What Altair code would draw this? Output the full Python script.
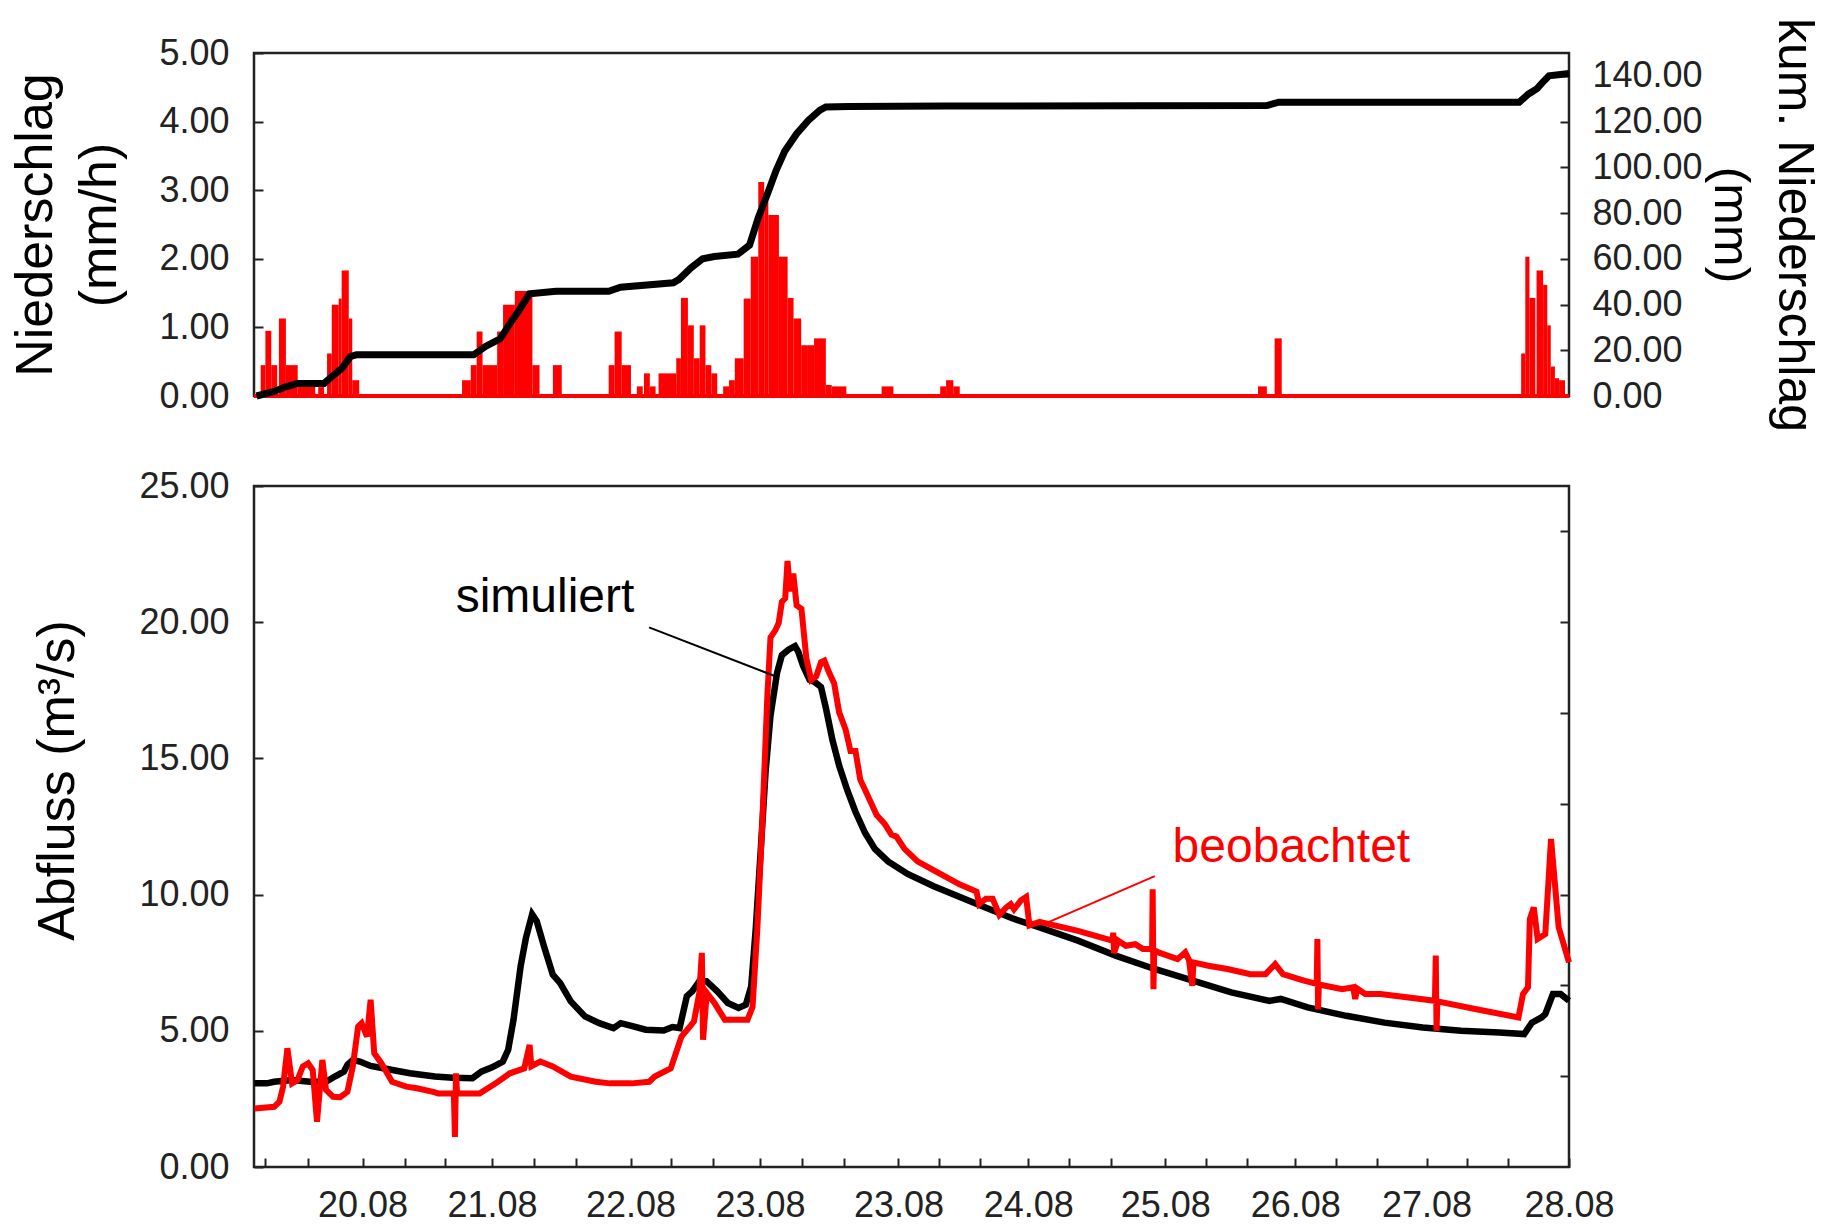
import altair as alt
import pandas as pd

FONT = "Liberation Sans"
RED = "#ff0000"

# x unit: days, 0 = tick "20.08"
X_DOMAIN = [-0.81, 9.0]
tick_vals = [-0.726, -0.410, 0, 0.313, 0.616, 0.966, 1.279, 1.590, 1.999, 2.299, 2.612, 2.965,
             3.278, 3.588, 3.998, 4.299, 4.606, 4.966, 5.272, 5.582, 5.988, 6.291, 6.598, 6.958,
             7.264, 7.571, 7.937, 8.237, 8.547, 9.0]
major_vals = [0, 0.966, 1.999, 2.965, 3.998, 4.966, 5.988, 6.958, 7.937, 9.0]
major_labels = ["20.08", "21.08", "22.08", "23.08", "23.08", "24.08", "25.08", "26.08", "27.08", "28.08"]

# precipitation bars (mm/h): start, end, value
rain_t0 = [-0.760, -0.725, -0.681, -0.624, -0.572, -0.484, -0.331, -0.265, -0.230, -0.178, -0.156, -0.103, -0.077,
           0.742, 0.807, 0.851, 0.895, 1.004, 1.048, 1.136, 1.267, 1.420, 1.836, 1.880, 1.933, 2.046, 2.099, 2.143,
           2.208, 2.340, 2.375, 2.427, 2.471, 2.515, 2.558, 2.602, 2.690, 2.734, 2.777, 2.843, 2.896, 2.952, 2.996,
           3.027, 3.106, 3.171, 3.215, 3.272, 3.316, 3.368, 3.456, 3.500, 3.872, 4.309, 4.353, 4.407, 6.680, 6.804,
           8.643, 8.674, 8.705, 8.758, 8.807, 8.838, 8.864, 8.895, 8.926]
rain_t1 = [-0.725, -0.681, -0.637, -0.572, -0.484, -0.353, -0.287, -0.230, -0.178, -0.156, -0.103, -0.077, -0.025,
           0.807, 0.851, 0.895, 1.004, 1.048, 1.136, 1.267, 1.320, 1.486, 1.880, 1.933, 2.002, 2.090, 2.143, 2.186,
           2.340, 2.375, 2.427, 2.471, 2.515, 2.558, 2.602, 2.646, 2.734, 2.777, 2.843, 2.896, 2.952, 2.996, 3.027,
           3.106, 3.171, 3.215, 3.272, 3.316, 3.368, 3.456, 3.500, 3.609, 3.960, 4.353, 4.407, 4.455, 6.746, 6.857,
           8.674, 8.705, 8.749, 8.807, 8.838, 8.864, 8.895, 8.926, 8.970]
rain_mmh = [0.45, 0.95, 0.45, 1.13, 0.45, 0.23, 0.13, 0.62, 1.33, 1.42, 1.83, 1.13, 0.23,
            0.23, 0.45, 0.94, 0.45, 0.94, 1.33, 1.53, 0.45, 0.45, 0.45, 0.94, 0.45, 0.14, 0.33, 0.14,
            0.33, 0.55, 1.43, 1.03, 0.55, 1.03, 0.45, 0.33, 0.14, 0.23, 0.55, 1.42, 2.03, 3.12, 2.83,
            2.64, 2.03, 1.43, 1.13, 0.74, 0.74, 0.84, 0.16, 0.14, 0.14, 0.14, 0.23, 0.14, 0.14, 0.84,
            0.62, 2.03, 1.43, 1.83, 1.62, 1.03, 0.43, 0.26, 0.23]

# cumulative precipitation (mm)
cum_t = [-0.791, -0.659, -0.572, -0.484, -0.287, -0.243, -0.156, -0.090, -0.046, 0.829, 0.917, 1.026, 1.092,
         1.179, 1.245, 1.442, 1.836, 1.924, 2.318, 2.361, 2.449, 2.537, 2.624, 2.799, 2.887, 2.952, 3.018,
         3.084, 3.149, 3.237, 3.325, 3.412, 3.456, 3.631, 4.353, 6.746, 6.835, 8.629, 8.696, 8.762, 8.807,
         8.851, 9.0]
cum_mm = [0, 2, 4, 5.5, 5.5, 7.8, 12, 17.3, 18, 18, 21.7, 25, 31,
          38.5, 44.7, 45.8, 45.8, 47.6, 49.5, 51, 56, 60, 61, 62, 66, 78, 88,
          98.5, 107, 114.6, 120.5, 125, 126.4, 126.6, 126.8, 127, 128.5, 128.5, 132, 134.4, 137.4,
          140, 141]

# simulated discharge (m3/s)
sim_t = [-0.806, -0.713, -0.660, -0.526, -0.393, -0.273, -0.207, -0.140, -0.113, -0.073, -0.020, 0.060,
         0.193, 0.353, 0.540, 0.673, 0.820, 0.886, 0.966, 1.046, 1.086, 1.126, 1.179, 1.219, 1.265, 1.299,
         1.353, 1.419, 1.473, 1.553, 1.659, 1.766, 1.872, 1.926, 2.006, 2.112, 2.246, 2.312, 2.365, 2.419,
         2.459, 2.512, 2.566, 2.646, 2.725, 2.805, 2.859, 2.899, 2.933, 2.970, 3.006, 3.043, 3.092, 3.128,
         3.177, 3.226, 3.250, 3.286, 3.335, 3.372, 3.420, 3.457, 3.506, 3.555, 3.616, 3.676, 3.749, 3.822,
         3.920, 4.066, 4.261, 4.456, 4.651, 4.846, 5.050, 5.337, 5.623, 5.908, 6.194, 6.480, 6.766, 6.850,
         7.050, 7.338, 7.623, 7.909, 8.195, 8.480, 8.666, 8.723, 8.795, 8.823, 8.880, 8.937, 9.000]
sim_q = [3.07, 3.07, 3.13, 3.19, 3.13, 3.13, 3.32, 3.50, 3.75, 3.93, 3.87, 3.71,
         3.59, 3.44, 3.32, 3.28, 3.26, 3.50, 3.66, 3.87, 4.30, 5.41, 7.37, 8.42, 9.28, 9.03,
         8.11, 7.06, 6.76, 6.08, 5.53, 5.28, 5.10, 5.28, 5.18, 5.04, 5.01, 5.14, 5.10, 6.27,
         6.45, 6.82, 6.82, 6.45, 6.02, 5.84, 5.96, 6.63, 8.74, 11.61, 14.48, 16.57, 18.14, 18.79,
         18.99, 19.12, 18.92, 18.40, 17.88, 17.81, 17.62, 16.83, 15.66, 14.74, 13.83, 13.05, 12.26, 11.68,
         11.22, 10.76, 10.31, 9.91, 9.52, 9.13, 8.80, 8.31, 7.75, 7.27, 6.84, 6.41, 6.10, 6.17,
         5.86, 5.55, 5.30, 5.12, 5.00, 4.94, 4.88, 5.30, 5.49, 5.61, 6.35, 6.35, 6.10]

# observed discharge (m3/s)
obs_t = [-0.806, -0.660, -0.620, -0.593, -0.561, -0.526, -0.486, -0.446, -0.406, -0.372, -0.340, -0.300,
         -0.273, -0.220, -0.167, -0.113, -0.073, -0.033, -0.007, 0.033, 0.060, 0.087, 0.140, 0.220, 0.326,
         0.406, 0.526, 0.566, 0.681, 0.689, 0.697, 0.705, 0.873, 0.993, 1.099, 1.206, 1.246, 1.259, 1.326,
         1.419, 1.553, 1.739, 1.846, 2.006, 2.139, 2.179, 2.299, 2.379, 2.432, 2.472, 2.512, 2.531, 2.540,
         2.568, 2.628, 2.702, 2.872, 2.909, 2.945, 2.982, 3.019, 3.043, 3.079, 3.104, 3.128, 3.153, 3.170,
         3.189, 3.213, 3.238, 3.274, 3.311, 3.347, 3.384, 3.420, 3.445, 3.481, 3.518, 3.555, 3.604, 3.640,
         3.677, 3.713, 3.774, 3.835, 3.896, 3.945, 3.982, 4.043, 4.140, 4.262, 4.457, 4.580, 4.600, 4.650,
         4.700, 4.750, 4.800, 4.835, 4.860, 4.910, 4.950, 4.975, 5.050, 5.337, 5.594, 5.600, 5.606, 5.637,
         5.694, 5.765, 5.822, 5.890, 5.894, 5.900, 5.906, 5.937, 6.080, 6.137, 6.165, 6.190, 6.198, 6.309,
         6.452, 6.623, 6.737, 6.808, 6.866, 7.023, 7.118, 7.123, 7.128, 7.134, 7.309, 7.390, 7.405, 7.420,
         7.480, 7.594, 8.000, 8.006, 8.012, 8.018, 8.309, 8.623, 8.657, 8.694, 8.708, 8.737, 8.766, 8.823,
         8.866, 8.923, 9.000]
obs_q = [2.15, 2.21, 2.40, 2.95, 4.36, 3.07, 3.19, 3.69, 3.81, 3.56, 1.66, 3.93,
         2.83, 2.58, 2.56, 2.76, 3.69, 5.16, 5.28, 4.79, 6.14, 4.18, 3.81, 3.13, 2.95,
         2.89, 2.76, 2.70, 2.70, 1.10, 3.44, 2.70, 2.70, 3.07, 3.44, 3.62, 4.48, 3.70, 3.87,
         3.69, 3.32, 3.13, 3.07, 3.07, 3.13, 3.32, 3.62, 4.79, 5.10, 5.34, 6.39, 7.86, 4.67,
         6.39, 6.00, 5.41, 5.41, 5.87, 8.74, 12.65, 17.22, 19.44, 19.70, 19.97, 20.75, 20.88, 22.25,
         21.14, 21.79, 20.62, 20.49, 18.66, 17.88, 18.01, 18.53, 18.59, 18.14, 17.75, 16.70, 16.05, 15.27,
         15.27, 14.22, 13.57, 12.92, 12.59, 12.20, 12.13, 11.68, 11.22, 10.89, 10.37, 10.11, 9.65, 9.85,
         9.85, 9.26, 9.52, 9.65, 9.46, 9.78, 9.91, 8.87, 9.00, 8.67, 8.31, 8.60, 7.85, 8.31,
         8.12, 8.18, 8.00, 8.00, 10.20, 6.53, 7.95, 7.88, 7.63, 7.88, 7.60, 6.65, 7.51, 7.39,
         7.27, 7.08, 7.08, 7.45, 7.08, 6.84, 6.72, 8.37, 5.79, 6.70, 6.53, 6.60, 6.17, 6.55,
         6.35, 6.35, 6.10, 7.76, 5.00, 6.08, 5.79, 5.49, 6.35, 6.60, 9.10, 9.53, 8.37, 8.55,
         12.04, 8.80, 7.51]

# annotations
ann_text = ["simuliert", "beobachtet"]
ann_t = [1.361, 6.929]
ann_q = [20.88, 11.71]
lead_t0 = [2.137, 5.910]
lead_t1 = [3.104, 5.100]
lead_q0 = [19.81, 10.68]
lead_q1 = [17.97, 8.95]

rain_df = pd.DataFrame({"t0": rain_t0, "t1": rain_t1, "rate": rain_mmh})
cum_df = pd.DataFrame({"t": cum_t, "mm": cum_mm})
sim_df = pd.DataFrame({"t": sim_t, "q": sim_q})
obs_df = pd.DataFrame({"t": obs_t, "q": obs_q})

INWARD = {"expr": "-9"}
xs = alt.Scale(domain=X_DOMAIN, nice=False, zero=False)

vals_js = "[" + ",".join(repr(v) for v in major_vals) + "]"
labs_js = "[" + ",".join("'%s'" % l for l in major_labels) + "]"
label_expr = (f"indexof({vals_js}, datum.value) >= 0 ? "
              f"{labs_js}[indexof({vals_js}, datum.value)] : ''")

# ---------- top panel ----------
rain_scale = alt.Scale(domain=[0, 5], nice=False)
bars = alt.Chart(rain_df).mark_rect(color=RED, strokeWidth=0).encode(
    x=alt.X("t0:Q", scale=xs, axis=None),
    x2="t1:Q",
    y=alt.Y("rate:Q", scale=rain_scale,
            axis=alt.Axis(orient="left", values=[0, 1, 2, 3, 4, 5], format=".2f",
                          tickSize=INWARD, labelPadding=34,
                          title=["Niederschlag", "(mm/h)"], titlePadding=32)),
    y2=alt.datum(0),
)
baseline = alt.Chart(rain_df).mark_rule(color=RED, strokeWidth=4).encode(
    y=alt.Y(datum=0, scale=rain_scale, axis=None),
)
cumline = alt.Chart(cum_df).mark_line(color="black", strokeWidth=7).encode(
    x=alt.X("t:Q", scale=xs, axis=None),
    y=alt.Y("mm:Q", scale=alt.Scale(domain=[0, 150], nice=False),
            axis=alt.Axis(orient="right", values=[0, 20, 40, 60, 80, 100, 120, 140], format=".2f",
                          tickSize=INWARD, labelPadding=32, titleFontSize=50, titleLineHeight=64,
                          title=["kum. Niederschlag", "(mm)"], titlePadding=2)),
)
top = alt.layer(bars, baseline, cumline).resolve_scale(y="independent").resolve_axis(
    y="independent").properties(width=1315, height=343)

# ---------- bottom panel ----------
ys = alt.Scale(domain=[0, 25], nice=False)
xaxis = alt.Axis(values=tick_vals, labelExpr=label_expr, tickSize=INWARD, labelPadding=30,
                 labelFlush=False, labelOverlap=False, title=None)

sim_line = alt.Chart(sim_df).mark_line(color="black", strokeWidth=6.5).encode(
    x=alt.X("t:Q", scale=xs, axis=xaxis),
    y=alt.Y("q:Q", scale=ys,
            axis=alt.Axis(orient="left", values=[0, 5, 10, 15, 20, 25], format=".2f",
                          tickSize=INWARD, labelPadding=34,
                          title="Abfluss (m³/s)", titlePadding=54, titleY=294)),
)
obs_line = alt.Chart(obs_df).mark_line(color=RED, strokeWidth=6).encode(
    x=alt.X("t:Q", scale=xs, axis=xaxis),
    y=alt.Y("q:Q", scale=ys,
            axis=alt.Axis(orient="right", values=[10 / 3 * k for k in range(1, 8)],
                          labels=False, tickSize=INWARD, title=None)),
)

ann_df = pd.DataFrame({"t": ann_t, "q": ann_q, "label": ann_text})
lead_df = pd.DataFrame({"t0": lead_t0, "t1": lead_t1, "q0": lead_q0, "q1": lead_q1, "label": ann_text})
ann_color = alt.Color("label:N", scale=alt.Scale(domain=ann_text, range=["black", RED]), legend=None)

leaders = alt.Chart(lead_df).mark_rule(strokeWidth=2).encode(
    x=alt.X("t0:Q", scale=xs, axis=xaxis), x2="t1:Q",
    y=alt.Y("q0:Q", scale=ys, axis=None), y2="q1:Q",
    color=ann_color,
)
labels = alt.Chart(ann_df).mark_text(font=FONT, fontSize=48, align="center", baseline="middle").encode(
    x=alt.X("t:Q", scale=xs, axis=xaxis),
    y=alt.Y("q:Q", scale=ys, axis=None),
    text="label:N",
    color=ann_color,
)

bottom = alt.layer(sim_line, obs_line, leaders, labels).resolve_axis(y="independent").properties(
    width=1315, height=681)

chart = alt.vconcat(top, bottom, spacing=33).properties(
    padding={"left": 0, "top": 8, "right": 0, "bottom": 0}
).configure_view(stroke="#222", strokeWidth=2.5).configure_axis(
    labelFont=FONT, labelFontSize=36, labelColor="#222",
    titleFont=FONT, titleFontSize=52, titleFontWeight="normal", titleColor="black",
    titleLineHeight=64, tickColor="#222", tickWidth=2, grid=False, domain=False,
)

chart.save("out.html", embed_options={"renderer": "svg", "actions": False})
